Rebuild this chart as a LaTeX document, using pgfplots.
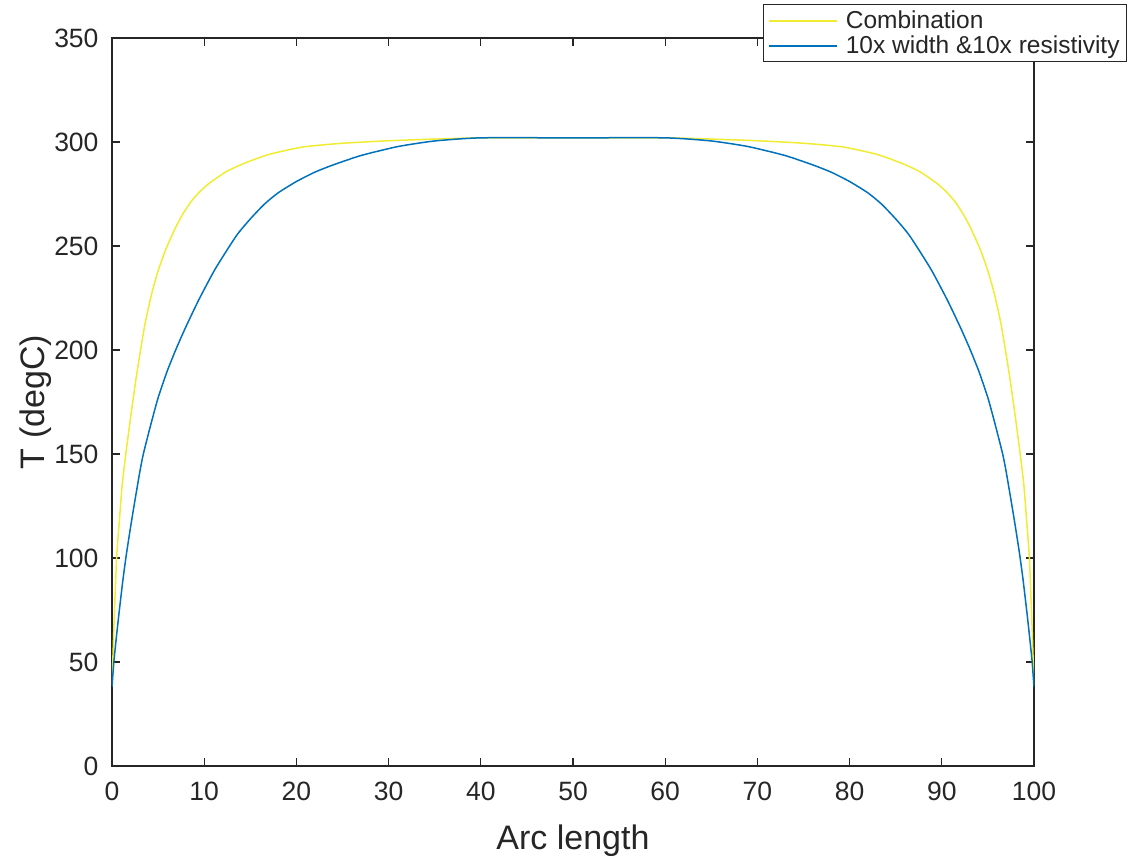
\documentclass[border=0pt]{standalone}
\usepackage{pgfplots}
\pgfplotsset{compat=1.18}
\usepackage{fontspec}
\setmainfont{Liberation Sans}

\definecolor{axisgray}{rgb}{0.15,0.15,0.15}
\definecolor{mblue}{rgb}{0,0.447,0.741}
\definecolor{myellow}{RGB}{240,236,50}

\begin{document}
\begin{tikzpicture}
\begin{axis}[
  at={(0pt,0pt)}, anchor=south west,
  scale only axis, width=922pt, height=728pt,
  xmin=0, xmax=100, ymin=0, ymax=350,
  xtick={0,10,...,100}, ytick={0,50,...,350},
  tick align=inside, tick pos=both,
  major tick length=8pt,
  axis line style={axisgray, line width=1.3pt},
  every tick/.style={axisgray, line width=1.3pt},
  /pgf/number format/assume math mode=true,
  ticklabel style={font=\fontsize{26.5}{30}\selectfont, text=axisgray},
  xticklabel style={yshift=-12pt},
  yticklabel style={xshift=-10pt},
  xlabel={Arc length}, ylabel={T (degC)},
  label style={font=\fontsize{34}{38}\selectfont, text=axisgray},
  xlabel style={at={(axis description cs:0.5,-0.103)}, anchor=center},
  ylabel style={at={(axis description cs:-0.083,0.5)}, anchor=center},
  legend style={at={(axis description cs:1.1009,1.0467)}, anchor=north east,
    draw=axisgray, line width=1pt, fill=white,
    font=\fontsize{24.5}{28}\selectfont, text=axisgray,
    inner xsep=5pt, inner ysep=4.5pt, row sep=2pt,
    /tikz/every odd column/.append style={column sep=6pt}},
  legend cell align=left,
  legend image code/.code={\draw[#1, line width=1.8pt] (0pt,0pt) -- (68pt,0pt);},
]
\addplot[myellow, line width=1.5pt, smooth, tension=0.35] coordinates {
(0,39) (0.1,52) (0.25,72) (0.5,100) (0.8,118) (1.1,135) (1.5,150) (2.0,167)
(2.6,186) (3.1,200) (3.6,213) (4.3,227) (5.0,238) (5.8,248) (6.8,258)
(7.7,265.5) (8.6,271.5) (9.5,276) (10.5,280) (12.3,285.5) (14.2,289.5)
(17,294) (20.7,297.6) (25,299.4) (30,300.6) (35,301.4) (40,302) (50,302)
(60,302) (65,301.4) (70,300.6) (75,299.4) (79.3,297.6) (83,294) (85.8,289.5)
(87.7,285.5) (89.5,280) (90.5,276) (91.4,271.5) (92.3,265.5) (93.2,258)
(94.2,248) (95,238) (95.7,227) (96.4,213) (96.9,200) (97.4,186) (98,167)
(98.5,150) (98.9,135) (99.2,118) (99.5,100) (99.75,72) (99.9,52) (100,39)
};
\addlegendentry{Combination}
\addplot[mblue, line width=1.5pt, smooth, tension=0.35] coordinates {
(0,38) (0.2,50) (0.5,63) (0.8,75) (1.2,90) (1.6,103) (2.2,120) (3.0,141)
(3.4,150) (4.2,164) (5.0,177) (6.0,190) (7.0,201) (8.0,211) (9.4,224)
(11.2,239) (13.5,255) (15,263) (16.5,270) (18,275.5) (20,281) (22,285.5)
(24,289) (27,293.5) (31,297.8) (35,300.5) (40,302) (50,302)
(60,302) (65,300.5) (69,297.8) (73,293.5) (76,289) (78,285.5) (80,281)
(82,275.5) (83.5,270) (85,263) (86.5,255) (88.8,239) (90.6,224) (92,211)
(93,201) (94,190) (95,177) (95.8,164) (96.6,150) (97,141) (97.8,120)
(98.4,103) (98.8,90) (99.2,75) (99.5,63) (99.8,50) (100,38)
};
\addlegendentry{10x width \&10x resistivity}
\end{axis}
\pgfresetboundingbox
\path (-112pt,-95pt) rectangle (1019pt,766pt);
\end{tikzpicture}
\end{document}
